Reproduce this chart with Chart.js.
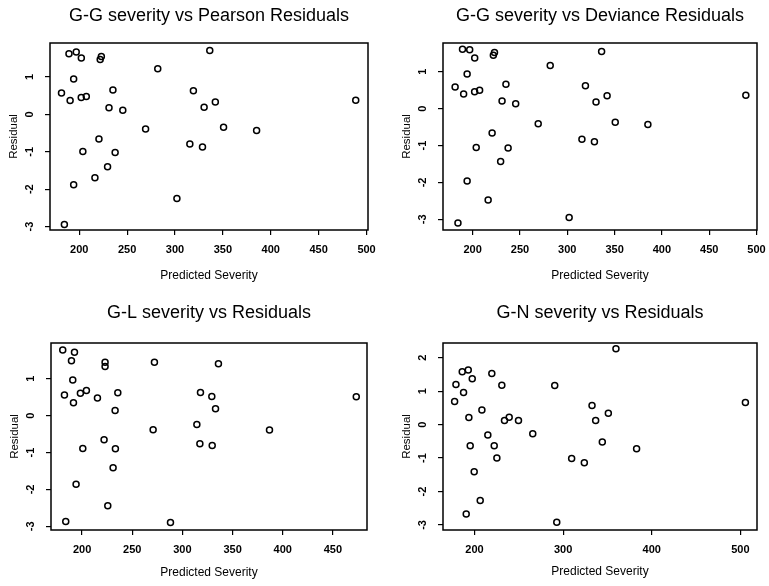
<!DOCTYPE html>
<html>
<head>
<meta charset="utf-8">
<script src="https://cdn.jsdelivr.net/npm/chart.js@4.4.0/dist/chart.umd.min.js"></script>
<style>
  html, body { margin: 0; padding: 0; background: #fff; }
  body { width: 769px; height: 586px; position: relative; overflow: hidden; }
  .panel { position: absolute; }
</style>
</head>
<body>
<div class="panel" style="left:0;top:0"><canvas id="chart-gg-pearson" width="384" height="293"></canvas></div>
<div class="panel" style="left:384px;top:0"><canvas id="chart-gg-deviance" width="385" height="293"></canvas></div>
<div class="panel" style="left:0;top:295px"><canvas id="chart-gl" width="384" height="291"></canvas></div>
<div class="panel" style="left:384px;top:295px"><canvas id="chart-gn" width="385" height="291"></canvas></div>
<script>
// predicted severity of the G-G model (same x for both G-G plots)
var ggPredicted = [189.3, 196.9, 202.2, 223.1, 221.9, 336.3, 282.0, 194.2, 181.5, 190.5, 202.1,
  207.4, 235.2, 231.1, 245.5, 319.2, 330.4, 342.1, 488.7, 269.3, 350.7, 385.2, 220.6, 315.5,
  328.7, 203.8, 237.5, 229.6, 216.4, 194.2, 302.0, 184.5];
var ggPearson = [1.62, 1.67, 1.51, 1.55, 1.47, 1.71, 1.22, 0.95, 0.57, 0.37, 0.45,
  0.48, 0.65, 0.18, 0.11, 0.63, 0.19, 0.33, 0.38, -0.39, -0.34, -0.43, -0.66, -0.79,
  -0.87, -0.99, -1.02, -1.40, -1.69, -1.88, -2.25, -2.94];
var ggDeviance = [1.61, 1.60, 1.37, 1.52, 1.45, 1.55, 1.17, 0.94, 0.59, 0.40, 0.46,
  0.50, 0.66, 0.21, 0.13, 0.62, 0.18, 0.35, 0.36, -0.41, -0.37, -0.43, -0.66, -0.83,
  -0.90, -1.05, -1.07, -1.43, -2.48, -1.96, -2.95, -3.10];

var glPredicted = [180.7, 192.4, 189.4, 222.9, 222.9, 272.1, 335.9, 190.7, 182.4, 191.4, 198.3,
  204.3, 215.3, 235.6, 232.9, 318.0, 329.3, 333.0, 473.3, 270.8, 314.4, 386.8, 221.9, 317.4,
  329.7, 200.7, 233.2, 230.9, 194.0, 225.6, 183.7, 288.1];
var glResidual = [1.78, 1.72, 1.49, 1.45, 1.33, 1.45, 1.41, 0.97, 0.56, 0.35, 0.61,
  0.68, 0.48, 0.62, 0.14, 0.63, 0.52, 0.19, 0.51, -0.38, -0.24, -0.39, -0.65, -0.76,
  -0.81, -0.89, -0.90, -1.41, -1.86, -2.44, -2.87, -2.90];

var gnPredicted = [359.6, 186.1, 192.9, 197.4, 219.5, 179.0, 230.8, 290.5, 187.6, 177.5, 208.3,
  332.6, 505.7, 351.0, 193.6, 239.1, 233.8, 249.6, 336.7, 215.0, 265.7, 195.1, 222.2, 344.2,
  382.9, 225.2, 309.6, 323.9, 199.6, 206.4, 190.6, 292.8];
var gnResidual = [2.27, 1.58, 1.63, 1.37, 1.53, 1.20, 1.18, 1.17, 0.96, 0.69, 0.44,
  0.57, 0.66, 0.34, 0.21, 0.22, 0.12, 0.12, 0.12, -0.31, -0.27, -0.63, -0.63, -0.52,
  -0.72, -1.00, -1.01, -1.14, -1.41, -2.27, -2.67, -2.92];

var xTicksGG = [200, 250, 300, 350, 400, 450, 500];
var xTicksGL = [200, 250, 300, 350, 400, 450];
var xTicksGN = [200, 300, 400, 500];
var yTicksResid = [-3, -2, -1, 0, 1];
var yTicksGN = [-3, -2, -1, 0, 1, 2];

var FONT = "'Liberation Sans', Arial, Helvetica, sans-serif";

var plotBox = {
  id: 'plotBox',
  afterDraw: function (chart) {
    var a = chart.chartArea;
    var ctx = chart.ctx;
    ctx.save();
    ctx.strokeStyle = '#000';
    ctx.lineWidth = 1.5;
    ctx.strokeRect(a.left, a.top, a.right - a.left, a.bottom - a.top);
    ctx.restore();
  }
};

function createResidualChart(id, title, xValues, yValues, xTicks, yTicks, p) {
  var points = xValues.map(function (x, i) {
    return { x: x, y: yValues[i] };
  });

  new Chart(id, {
    type: 'scatter',
    data: {
      datasets: [{
        data: points,
        pointStyle: 'circle',
        pointRadius: 3,
        pointBorderWidth: 1.5,
        borderColor: '#000',
        backgroundColor: 'rgba(0,0,0,0)'
      }]
    },
    options: {
      responsive: false,
      animation: false,
      devicePixelRatio: 1,
      layout: { padding: { left: p.padLeft, right: p.padRight, top: 0, bottom: 0 } },
      plugins: {
        legend: { display: false },
        tooltip: { enabled: false },
        title: {
          display: true,
          text: title,
          fullSize: false,
          color: '#000',
          font: { family: FONT, size: 18, weight: 'normal' },
          padding: { top: p.titleTop, bottom: p.titleBottom }
        }
      },
      scales: {
        x: {
          type: 'linear',
          min: p.xMin,
          max: p.xMax,
          afterBuildTicks: function (s) {
            s.ticks = xTicks.map(function (v) { return { value: v }; });
          },
          afterFit: function (s) {
            s.height = p.xHeight;
            s.paddingLeft = 0;
            s.paddingRight = 0;
          },
          grid: { drawOnChartArea: false, drawTicks: true, tickLength: 5, color: '#000', lineWidth: 1.2 },
          border: { display: false },
          ticks: { color: '#000', font: { family: FONT, size: 11, weight: 'bold' }, padding: 8, maxRotation: 0, autoSkip: false },
          title: {
            display: true,
            text: 'Predicted Severity',
            color: '#000',
            font: { family: FONT, size: 12 },
            padding: { top: 0, bottom: p.xTitlePad }
          }
        },
        y: {
          type: 'linear',
          min: p.yMin,
          max: p.yMax,
          afterBuildTicks: function (s) {
            s.ticks = yTicks.map(function (v) { return { value: v }; });
          },
          afterFit: function (s) {
            s.width = 50;
            s.paddingTop = 0;
            s.paddingBottom = 0;
          },
          grid: { drawOnChartArea: false, drawTicks: true, tickLength: 5, color: '#000', lineWidth: 1.2 },
          border: { display: false },
          ticks: {
            color: '#000', font: { family: FONT, size: 11, weight: 'bold' }, padding: 10,
            minRotation: 90, maxRotation: 90, crossAlign: 'center', autoSkip: false
          },
          title: {
            display: true,
            text: 'Residual',
            color: '#000',
            font: { family: FONT, size: 11.5 },
            padding: { top: 7, bottom: 0 }
          }
        }
      }
    },
    plugins: [plotBox]
  });
}

createResidualChart('chart-gg-pearson', 'G-G severity vs Pearson Residuals', ggPredicted, ggPearson,
  xTicksGG, yTicksResid,
  { padLeft: 0, padRight: 16, titleTop: 5, titleBottom: 16.4, xHeight: 63, xTitlePad: 10,
    xMin: 169.5, xMax: 501.5, yMin: -3.09, yMax: 1.91 });

createResidualChart('chart-gg-deviance', 'G-G severity vs Deviance Residuals', ggPredicted, ggDeviance,
  xTicksGG, yTicksResid,
  { padLeft: 9, padRight: 12, titleTop: 5, titleBottom: 16.4, xHeight: 63, xTitlePad: 10.5,
    xMin: 168.7, xMax: 500.5, yMin: -3.29, yMax: 1.78 });

createResidualChart('chart-gl', 'G-L severity vs Residuals', glPredicted, glResidual,
  xTicksGL, yTicksResid,
  { padLeft: 1, padRight: 17, titleTop: 7.5, titleBottom: 18.9, xHeight: 56, xTitlePad: 6,
    xMin: 169, xMax: 484, yMin: -3.10, yMax: 1.97 });

createResidualChart('chart-gn', 'G-N severity vs Residuals', gnPredicted, gnResidual,
  xTicksGN, yTicksGN,
  { padLeft: 9, padRight: 12, titleTop: 7.5, titleBottom: 18.9, xHeight: 56, xTitlePad: 7.5,
    xMin: 164.4, xMax: 518.8, yMin: -3.15, yMax: 2.44 });
</script>
</body>
</html>
